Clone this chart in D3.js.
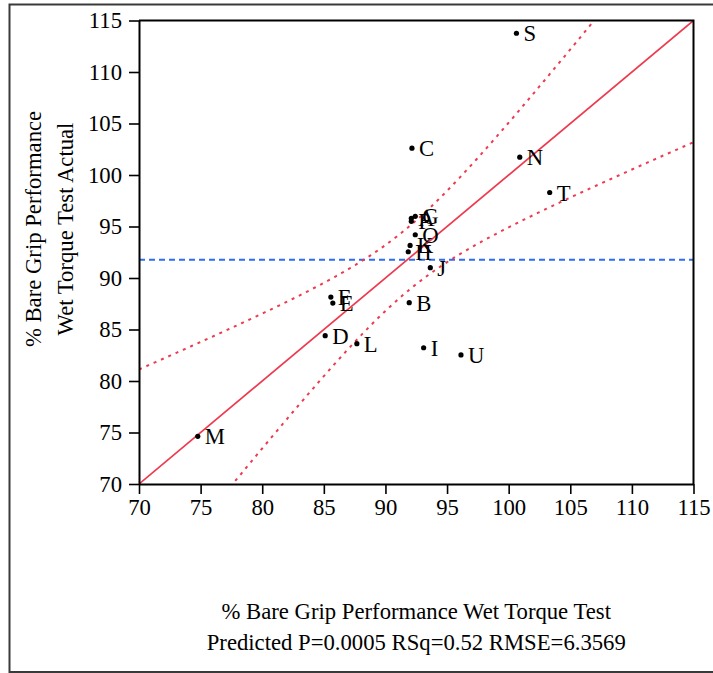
<!DOCTYPE html>
<html>
<head>
<meta charset="utf-8">
<script src="https://cdn.jsdelivr.net/npm/d3@7"></script>
<style>
  html, body { margin: 0; padding: 0; background: #fff; }
  svg { display: block; }
</style>
</head>
<body>
<svg id="chart" width="713" height="673"></svg>
<script>
// Point labels, predicted (x) and actual (y) values
const labels    = ["S","C","N","T","G","A","P","O","K","H","J","B","F","E","D","L","I","U","M"];
const predicted = [100.63, 92.15, 100.9, 103.33, 92.42, 92.1, 92.1, 92.42, 92.0, 91.85, 93.64, 91.93, 85.57, 85.73, 85.11, 87.68, 93.1, 96.13, 74.77];
const actual    = [113.76, 102.6, 101.73, 98.3, 95.99, 95.8, 95.5, 94.2, 93.16, 92.55, 91.0, 87.6, 88.15, 87.57, 84.4, 83.62, 83.23, 82.53, 74.63];

// Axis ticks
const xTicks = [70, 75, 80, 85, 90, 95, 100, 105, 110, 115];
const yTicks = [70, 75, 80, 85, 90, 95, 100, 105, 110, 115];

// Fit summary
const rmse = 6.3569;
const tCrit = 2.110;   // t(0.975, df = 17)
const xTitle = "% Bare Grip Performance Wet Torque Test";
const statLine = "Predicted P=0.0005 RSq=0.52 RMSE=6.3569";
const yTitle = ["% Bare Grip Performance", "Wet Torque Test Actual"];

const SERIF = "'Liberation Serif', 'Times New Roman', Times, serif";
const FONT = 22.7;
const svg = d3.select("#chart");

function styleText(sel) {
  return sel.style("font-family", SERIF).style("font-size", FONT + "px").style("fill", "#000");
}

// Outer frame
svg.append("rect")
  .attr("x", 9.5).attr("y", 4.5)
  .attr("width", 720).attr("height", 667.5)
  .attr("fill", "none").attr("stroke", "#3a3a3a").attr("stroke-width", 2);

const plot = { left: 139, right: 693.5, top: 20.5, bottom: 484 };
const x = d3.scaleLinear().domain([70, 115]).range([plot.left, plot.right]);
const y = d3.scaleLinear().domain([70, 115]).range([plot.bottom, plot.top]);

svg.append("clipPath").attr("id", "plotClip")
  .append("rect")
  .attr("x", plot.left).attr("y", plot.top)
  .attr("width", plot.right - plot.left).attr("height", plot.bottom - plot.top);

const g = svg.append("g").attr("clip-path", "url(#plotClip)");

// Mean of response (horizontal reference)
const n = predicted.length;
const meanPred = d3.mean(predicted);
g.append("line")
  .attr("x1", plot.left).attr("x2", plot.right)
  .attr("y1", y(meanPred)).attr("y2", y(meanPred))
  .attr("stroke", "#2f6df2").attr("stroke-width", 2)
  .attr("stroke-dasharray", "6,4");

// Fit line: actual = predicted
const fitLine = d3.line().x(d => x(d)).y(d => y(d));
g.append("path")
  .attr("d", fitLine(x.domain()))
  .attr("fill", "none").attr("stroke", "#ee3a4e").attr("stroke-width", 1.7);

// Confidence curves of the fit
const sxx = d3.sum(predicted, p => (p - meanPred) ** 2);
const grid = d3.range(0, 401).map(i => 70 + i * 45 / 400);
const half = p => tCrit * rmse * Math.sqrt(1 / n + (p - meanPred) ** 2 / sxx);
const curve = d3.line().x(d => x(d[0])).y(d => y(d[1]));
[1, -1].forEach(sign => {
  g.append("path")
    .attr("d", curve(grid.map(p => [p, p + sign * half(p)])))
    .attr("fill", "none").attr("stroke", "#ee3a4e").attr("stroke-width", 2)
    .attr("stroke-dasharray", "3,5");
});

// Points and their labels
const pts = svg.append("g");
labels.forEach((lab, i) => {
  const cx = x(predicted[i]), cy = y(actual[i]);
  pts.append("circle").attr("cx", cx).attr("cy", cy).attr("r", 2.6).attr("fill", "#000");
  styleText(pts.append("text").attr("x", cx + 7).attr("y", cy + 8)).text(lab);
});

// Axes
const xAxis = d3.axisBottom(x).tickValues(xTicks).tickSize(10).tickSizeOuter(0).tickPadding(5);
const yAxis = d3.axisLeft(y).tickValues(yTicks).tickSize(10).tickSizeOuter(0).tickPadding(7);

const gx = svg.append("g").attr("transform", `translate(0,${plot.bottom})`).call(xAxis);
const gy = svg.append("g").attr("transform", `translate(${plot.left},0)`).call(yAxis);
[gx, gy].forEach(a => {
  a.attr("font-family", null).attr("font-size", null);
  a.selectAll("path.domain").attr("stroke", "#000").attr("stroke-width", 2);
  a.selectAll(".tick line").attr("stroke", "#000").attr("stroke-width", 1.6);
  styleText(a.selectAll(".tick text"));
});

// Top and right borders of the plot
svg.append("path")
  .attr("d", `M${plot.left},${plot.top}H${plot.right}V${plot.bottom}`)
  .attr("fill", "none").attr("stroke", "#000").attr("stroke-width", 2);

// Axis titles
const cxMid = (plot.left + plot.right) / 2;
styleText(svg.append("text").attr("x", cxMid).attr("y", 619).attr("text-anchor", "middle")).text(xTitle);
styleText(svg.append("text").attr("x", cxMid).attr("y", 650).attr("text-anchor", "middle")).text(statLine);

const yMid = 229;
yTitle.forEach((t, i) => {
  styleText(svg.append("text")
    .attr("transform", `translate(${41 + i * 32},${yMid}) rotate(-90)`)
    .attr("text-anchor", "middle")).text(t);
});
</script>
</body>
</html>
